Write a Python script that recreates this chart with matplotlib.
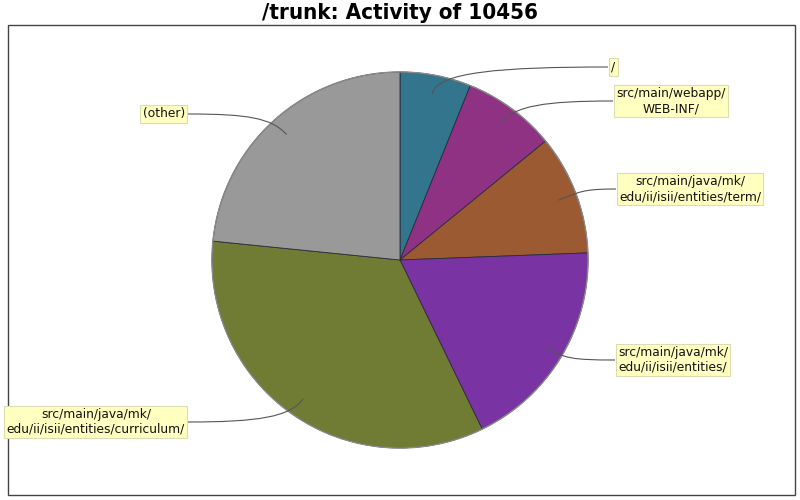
import numpy as np
import matplotlib
matplotlib.use("Agg")
import matplotlib.pyplot as plt
from matplotlib.path import Path
from matplotlib.patches import PathPatch, Rectangle, Circle

# slice data, clockwise from 12 o'clock
labels = ["/", "src/main/webapp/\nWEB-INF/", "src/main/java/mk/\nedu/ii/isii/entities/term/",
          "src/main/java/mk/\nedu/ii/isii/entities/", "src/main/java/mk/\nedu/ii/isii/entities/curriculum/",
          "(other)"]
shares = [6.1, 8.0, 10.3, 18.4, 33.8, 23.4]
colors = ["#33758c", "#8f3284", "#9b5a32", "#7a33a3", "#707c34", "#999999"]

# label box anchor points (pixels, y from top) and which side of the pie
label_xy = [(608, 67), (613, 101), (616, 189), (615, 360), (188, 422), (188, 114)]
label_side = ["right", "right", "right", "right", "left", "left"]

W, H = 800, 500
cx, cy, R = 400, 260, 188

fig = plt.figure(figsize=(8, 5), dpi=100)
ax = fig.add_axes([0, 0, 1, 1])

ax.pie(shares, colors=colors, startangle=90, counterclock=False,
       center=(cx, H - cy), radius=R, frame=True,
       wedgeprops=dict(edgecolor="#2a2a3a", linewidth=0.6))
ax.add_patch(Circle((cx, H - cy), R, fill=False, edgecolor="#8a8a8a", linewidth=1.0))
ax.set_xlim(0, W)
ax.set_ylim(0, H)
ax.set_aspect("auto")
ax.axis("off")

# plot frame
ax.add_patch(Rectangle((8, H - 495), 787, 470, fill=False, edgecolor="#444444", linewidth=1))

fig.text(0.5, 1 - 13 / H, "/trunk: Activity of 10456", ha="center", va="center",
         fontsize=16, fontweight="bold", fontstretch="condensed")

# labels with curved links
cum = np.cumsum([0] + shares[:-1])
for lab, s, c0, (lx, ly), side in zip(labels, shares, cum, label_xy, label_side):
    mid = np.deg2rad((c0 + s / 2) / sum(shares) * 360)
    ux, uy = np.sin(mid), np.cos(mid)
    ax_ = cx + 0.9 * R * ux
    ay_ = (H - cy) + 0.9 * R * uy
    px, py = lx, H - ly
    verts = [(ax_, ay_), (ax_ + ux * R * 0.12, ay_ + uy * R * 0.12),
             (px - (px - ax_) * 0.6, py), (px, py)]
    codes = [Path.MOVETO, Path.CURVE4, Path.CURVE4, Path.CURVE4]
    ax.add_patch(PathPatch(Path(verts, codes), fill=False, edgecolor="#555555", linewidth=0.8))
    ha = "left" if side == "right" else "right"
    off = 3 if side == "right" else -3
    ax.text(px + off, py, lab, ha=ha, va="center", multialignment="center",
            fontsize=8.8, color="#111111",
            bbox=dict(boxstyle="square,pad=0.2", facecolor="#ffffc0", edgecolor="#dcdcb4", linewidth=0.8))

fig.savefig("out.png", dpi=100)
